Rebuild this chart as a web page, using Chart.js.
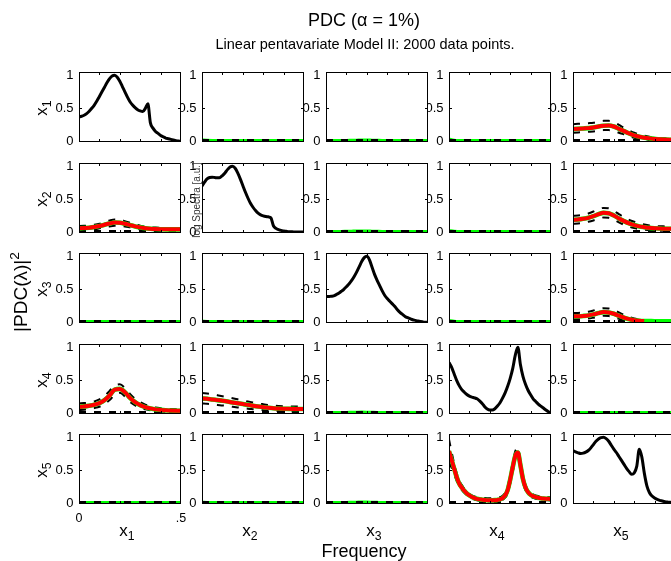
<!DOCTYPE html>
<html>
<head>
<meta charset="utf-8">
<script src="https://cdn.jsdelivr.net/npm/chart.js@4.4.1/dist/chart.umd.min.js"></script>
<style>
  html, body { margin: 0; padding: 0; background: #fff; overflow: hidden; }
  #fig { position: relative; width: 671px; height: 561px; overflow: hidden;
         font-family: "Liberation Sans", Arial, Helvetica, sans-serif; color: #000; }
  .panel { position: absolute; }
  .panel canvas { display: block; }
  .lbl { position: absolute; white-space: nowrap; line-height: 1; transform: translate(-50%, -50%); }
  .rot { transform: translate(-50%, -50%) rotate(-90deg); }
  .lbl sub { font-size: 0.72em; vertical-align: -0.35em; line-height: 0; }
  .lbl sup { font-size: 0.72em; vertical-align: 0.55em; line-height: 0; }
</style>
</head>
<body>
<div id="fig"></div>
<script>
// ---- frequency grids (normalised frequency, 0 .. 0.5) ----
const FREQ = [0,0.025,0.05,0.075,0.1,0.125,0.15,0.175,0.2,0.225,0.25,0.275,0.3,0.325,0.35,0.375,0.4,0.425,0.45,0.475,0.5];
const FREQ_FINE = [0,0.0125,0.025,0.0375,0.05,0.0625,0.075,0.0875,0.1,0.1125,0.125,0.1375,0.15,0.1625,0.175,0.1875,0.2,0.2125,0.225,0.2375,0.25,0.2625,0.275,0.2875,0.3,0.3125,0.325,0.3375,0.35,0.3625,0.375,0.3875,0.4,0.4125,0.425,0.4375,0.45,0.4625,0.475,0.4875,0.5];

// ---- normalised log spectra (diagonal panels), on FREQ_FINE ----
const SPEC_X1 = [0.37,0.38,0.395,0.42,0.455,0.50,0.55,0.61,0.68,0.75,0.82,0.89,0.95,0.99,1.00,0.97,0.91,0.83,0.75,0.67,0.60,0.55,0.51,0.48,0.46,0.45,0.50,0.57,0.28,0.20,0.15,0.12,0.09,0.07,0.05,0.04,0.03,0.02,0.01,0.005,0.0];
const SPEC_X2 = [0.70,0.76,0.81,0.83,0.835,0.83,0.825,0.83,0.86,0.90,0.95,0.99,1.0,0.97,0.90,0.81,0.71,0.61,0.52,0.44,0.38,0.33,0.29,0.265,0.25,0.24,0.235,0.22,0.10,0.06,0.04,0.03,0.02,0.015,0.01,0.008,0.006,0.005,0.005,0.005,0.005];
const SPEC_X3 = [0.39,0.39,0.395,0.40,0.42,0.44,0.47,0.50,0.54,0.58,0.63,0.69,0.76,0.84,0.92,0.98,1.0,0.95,0.84,0.73,0.64,0.56,0.48,0.41,0.36,0.32,0.28,0.24,0.19,0.15,0.12,0.09,0.07,0.055,0.04,0.03,0.02,0.012,0.007,0.003,0.0];
const SPEC_X4 = [0.77,0.70,0.60,0.50,0.42,0.36,0.32,0.285,0.26,0.245,0.235,0.22,0.19,0.15,0.10,0.065,0.05,0.05,0.07,0.11,0.16,0.23,0.31,0.41,0.53,0.68,0.88,1.0,0.74,0.56,0.44,0.35,0.28,0.22,0.18,0.14,0.11,0.08,0.05,0.025,0.005];
const SPEC_X5 = [0.80,0.78,0.765,0.755,0.76,0.775,0.80,0.84,0.89,0.94,0.975,0.995,1.0,0.98,0.94,0.88,0.82,0.77,0.71,0.65,0.59,0.53,0.48,0.44,0.46,0.56,0.82,0.70,0.45,0.26,0.16,0.11,0.08,0.06,0.045,0.035,0.025,0.02,0.015,0.012,0.01];

// ---- significant |PDC|^2 estimates with upper / lower confidence bounds ----
// x1 <- x5
const PDC_1_5 = [0.185,0.19,0.195,0.20,0.21,0.225,0.235,0.24,0.225,0.19,0.155,0.12,0.09,0.07,0.055,0.045,0.037,0.03,0.027,0.025,0.024];
const HI_1_5  = [0.26,0.265,0.27,0.275,0.28,0.295,0.31,0.31,0.29,0.25,0.205,0.165,0.13,0.105,0.085,0.07,0.06,0.052,0.046,0.043,0.042];
const LO_1_5  = [0.13,0.135,0.14,0.145,0.15,0.16,0.17,0.17,0.16,0.13,0.105,0.08,0.055,0.04,0.03,0.022,0.017,0.013,0.011,0.01,0.01];
// x2 <- x1
const PDC_2_1 = [0.06,0.065,0.07,0.08,0.095,0.115,0.135,0.148,0.145,0.13,0.11,0.09,0.075,0.063,0.055,0.05,0.047,0.045,0.045,0.045,0.045];
const HI_2_1  = [0.095,0.1,0.105,0.115,0.13,0.155,0.18,0.195,0.19,0.17,0.145,0.12,0.1,0.085,0.077,0.072,0.07,0.068,0.067,0.067,0.067];
const LO_2_1  = [0.025,0.03,0.035,0.045,0.06,0.075,0.09,0.1,0.1,0.09,0.075,0.06,0.048,0.04,0.035,0.03,0.028,0.027,0.026,0.026,0.026];
// x2 <- x5
const PDC_2_5 = [0.19,0.195,0.205,0.22,0.245,0.275,0.295,0.29,0.255,0.21,0.17,0.135,0.11,0.09,0.078,0.068,0.062,0.058,0.055,0.054,0.053];
const HI_2_5  = [0.25,0.255,0.265,0.285,0.315,0.35,0.37,0.365,0.325,0.275,0.23,0.19,0.16,0.135,0.118,0.105,0.097,0.092,0.09,0.088,0.087];
const LO_2_5  = [0.13,0.135,0.145,0.16,0.18,0.205,0.225,0.22,0.19,0.15,0.115,0.085,0.065,0.05,0.04,0.033,0.029,0.026,0.024,0.023,0.023];
// x3 <- x5
const PDC_3_5 = [0.09,0.092,0.097,0.105,0.12,0.14,0.155,0.15,0.13,0.1,0.07,0.048,0.032,0.025,0.021,0.019,0.017,0.016,0.015,0.015,0.015];
const HI_3_5  = [0.14,0.142,0.148,0.16,0.18,0.2,0.215,0.21,0.185,0.15,0.11,0.08,0.058,0.044,0.035,0.03,0.027,0.025,0.024,0.024,0.024];
const LO_3_5  = [0.045,0.047,0.05,0.057,0.07,0.085,0.1,0.095,0.08,0.055,0.035,0.02,0.01,0.005,0.002,0.0,0.0,0.0,0.0,0.0,0.0];
// x4 <- x1
const PDC_4_1 = [0.10,0.105,0.115,0.13,0.155,0.2,0.27,0.36,0.37,0.32,0.235,0.17,0.125,0.095,0.075,0.06,0.052,0.046,0.042,0.04,0.039];
const HI_4_1  = [0.15,0.155,0.165,0.18,0.21,0.26,0.34,0.42,0.44,0.385,0.295,0.22,0.17,0.13,0.105,0.088,0.077,0.07,0.065,0.062,0.06];
const LO_4_1  = [0.05,0.055,0.065,0.08,0.1,0.14,0.2,0.28,0.31,0.255,0.175,0.12,0.08,0.06,0.045,0.035,0.028,0.024,0.021,0.02,0.019];
// x4 <- x2
const PDC_4_2 = [0.225,0.22,0.21,0.2,0.19,0.178,0.165,0.152,0.14,0.128,0.115,0.103,0.093,0.085,0.078,0.073,0.07,0.068,0.067,0.066,0.066];
const HI_4_2  = [0.31,0.3,0.29,0.275,0.26,0.245,0.228,0.212,0.196,0.18,0.165,0.15,0.138,0.127,0.118,0.112,0.108,0.105,0.104,0.104,0.105];
const LO_4_2  = [0.15,0.145,0.138,0.128,0.12,0.11,0.1,0.09,0.08,0.07,0.062,0.054,0.047,0.041,0.037,0.034,0.031,0.03,0.029,0.029,0.029];
// x5 <- x4 (on FREQ_FINE)
const PDC_5_4 = [0.79,0.66,0.53,0.40,0.30,0.24,0.19,0.15,0.12,0.095,0.08,0.068,0.06,0.055,0.05,0.048,0.047,0.047,0.048,0.052,0.06,0.08,0.12,0.2,0.36,0.55,0.72,0.77,0.58,0.37,0.24,0.17,0.13,0.11,0.095,0.085,0.078,0.073,0.07,0.068,0.066];
const HI_5_4  = [0.97,0.78,0.61,0.46,0.35,0.28,0.22,0.18,0.145,0.12,0.105,0.095,0.088,0.083,0.08,0.078,0.077,0.077,0.079,0.084,0.093,0.115,0.16,0.25,0.42,0.62,0.79,0.84,0.64,0.42,0.28,0.2,0.16,0.135,0.12,0.11,0.103,0.098,0.095,0.093,0.092];
const LO_5_4  = [0.62,0.54,0.44,0.34,0.25,0.2,0.16,0.12,0.095,0.072,0.058,0.047,0.04,0.035,0.031,0.029,0.028,0.028,0.029,0.032,0.038,0.052,0.085,0.15,0.3,0.48,0.65,0.7,0.52,0.32,0.2,0.14,0.1,0.085,0.07,0.062,0.055,0.05,0.047,0.045,0.044];

// ---- non-significant |PDC|^2 estimates ----
const PDC_1_2 = [0.02,0.016,0.014,0.013,0.013,0.013,0.013,0.013,0.013,0.013,0.013,0.013,0.013,0.013,0.013,0.013,0.013,0.013,0.013,0.013,0.013];
const PDC_1_3 = [0.012,0.012,0.012,0.013,0.014,0.016,0.018,0.02,0.02,0.018,0.016,0.014,0.013,0.012,0.012,0.012,0.012,0.012,0.012,0.012,0.012];
const PDC_1_4 = [0.035,0.018,0.014,0.013,0.013,0.013,0.013,0.013,0.013,0.013,0.013,0.013,0.013,0.013,0.013,0.013,0.013,0.013,0.013,0.013,0.013];
const PDC_2_3 = [0.012,0.012,0.013,0.014,0.016,0.018,0.02,0.021,0.02,0.018,0.016,0.014,0.013,0.012,0.012,0.012,0.012,0.012,0.012,0.012,0.012];
const PDC_2_4 = [0.03,0.017,0.014,0.013,0.013,0.013,0.013,0.013,0.013,0.013,0.013,0.013,0.013,0.013,0.013,0.013,0.013,0.013,0.013,0.013,0.013];
const PDC_3_1 = [0.012,0.012,0.012,0.012,0.012,0.012,0.012,0.012,0.012,0.012,0.012,0.012,0.012,0.012,0.012,0.012,0.012,0.012,0.012,0.012,0.012];
const PDC_3_2 = [0.016,0.014,0.013,0.013,0.013,0.013,0.013,0.013,0.013,0.013,0.013,0.013,0.013,0.013,0.013,0.013,0.013,0.013,0.013,0.013,0.013];
const PDC_3_4 = [0.03,0.018,0.014,0.013,0.013,0.013,0.013,0.013,0.013,0.013,0.013,0.013,0.013,0.013,0.013,0.013,0.013,0.013,0.013,0.013,0.013];
const PDC_4_3 = [0.012,0.012,0.012,0.013,0.014,0.016,0.018,0.019,0.018,0.016,0.014,0.013,0.012,0.012,0.012,0.012,0.012,0.012,0.012,0.012,0.012];
const PDC_4_5 = [0.014,0.013,0.013,0.013,0.013,0.013,0.013,0.013,0.013,0.013,0.013,0.013,0.013,0.013,0.013,0.013,0.013,0.013,0.013,0.013,0.013];
const PDC_5_1 = [0.012,0.012,0.012,0.012,0.012,0.012,0.012,0.012,0.012,0.012,0.012,0.012,0.012,0.012,0.012,0.012,0.012,0.012,0.012,0.012,0.012];
const PDC_5_2 = [0.016,0.013,0.013,0.013,0.013,0.013,0.013,0.013,0.013,0.013,0.013,0.013,0.013,0.013,0.013,0.013,0.013,0.013,0.013,0.013,0.013];
const PDC_5_3 = [0.012,0.012,0.012,0.013,0.014,0.016,0.018,0.02,0.019,0.017,0.015,0.013,0.012,0.012,0.012,0.012,0.012,0.012,0.012,0.012,0.012];

// ---- significance thresholds (alpha = 1%), row = target, column = source ----
const THRESHOLD = [
  [null, 0.02, 0.02, 0.02, 0.02],
  [0.02, null, 0.02, 0.02, 0.02],
  [0.02, 0.02, null, 0.02, 0.02],
  [0.022, 0.02, 0.02, null, 0.02],
  [0.02, 0.02, 0.02, 0.022, null]
];

// ---- tick labels ----
const Y_TICKS = [0, 0.5, 1];
const Y_TICK_LABELS = ['0', '0.5', '1'];
const X_TICKS = [0, 0.5];
const X_TICK_LABELS = ['0', '.5'];
const X_MINOR_TICKS = [0.1, 0.2, 0.3, 0.4];

// ---- panel content lookup ----
const SPECTRA = [SPEC_X1, SPEC_X2, SPEC_X3, SPEC_X4, SPEC_X5];
const SIGNIFICANT = {
  '0,4': [PDC_1_5, HI_1_5, LO_1_5, FREQ],
  '1,0': [PDC_2_1, HI_2_1, LO_2_1, FREQ],
  '1,4': [PDC_2_5, HI_2_5, LO_2_5, FREQ],
  '2,4': [PDC_3_5, HI_3_5, LO_3_5, FREQ],
  '3,0': [PDC_4_1, HI_4_1, LO_4_1, FREQ],
  '3,1': [PDC_4_2, HI_4_2, LO_4_2, FREQ],
  '4,3': [PDC_5_4, HI_5_4, LO_5_4, FREQ_FINE]
};
const NOT_SIGNIFICANT = {
  '0,1': PDC_1_2, '0,2': PDC_1_3, '0,3': PDC_1_4,
  '1,2': PDC_2_3, '1,3': PDC_2_4,
  '2,0': PDC_3_1, '2,1': PDC_3_2, '2,3': PDC_3_4,
  '3,2': PDC_4_3, '3,4': PDC_4_5,
  '4,0': PDC_5_1, '4,1': PDC_5_2, '4,2': PDC_5_3
};

// ---- layout ----
const COL_LEFT = [79, 202, 326, 449, 573];
const ROW_TOP = [72, 163, 253, 344, 434];
const PLOT_W = 102, PLOT_H = 70;
const RED = '#ff0000', GREEN = '#00ff00', BLACK = '#000000';
const DASH = [7, 8];
const FONT = 'Liberation Sans, Arial, Helvetica, sans-serif';

function series(xs, ys) { return xs.map((x, i) => ({ x: x, y: ys[i] })); }

function line(xs, ys, extra) {
  return Object.assign({
    data: series(xs, ys),
    pointRadius: 0,
    pointHoverRadius: 0,
    fill: false,
    tension: 0,
    cubicInterpolationMode: 'monotone',
    borderJoinStyle: 'round',
    borderCapStyle: 'butt',
    clip: 0
  }, extra);
}

// white axes background, black box and inward tick marks
const framePlugin = {
  id: 'frame',
  beforeDatasetsDraw(chart) {
    const a = chart.chartArea, ctx = chart.ctx;
    ctx.save();
    ctx.fillStyle = '#fff';
    ctx.fillRect(a.left, a.top, a.right - a.left, a.bottom - a.top);
    ctx.restore();
  },
  afterDatasetsDraw(chart) {
    const a = chart.chartArea, ctx = chart.ctx;
    const xs = chart.scales.x, ys = chart.scales.y;
    ctx.save();
    ctx.strokeStyle = BLACK;
    ctx.lineWidth = 1;
    ctx.beginPath();
    X_MINOR_TICKS.forEach(v => {
      const px = Math.round(xs.getPixelForValue(v)) + 0.5;
      ctx.moveTo(px, a.top); ctx.lineTo(px, a.top + 3);
      ctx.moveTo(px, a.bottom); ctx.lineTo(px, a.bottom - 3);
    });
    const py = Math.round(ys.getPixelForValue(0.5)) + 0.5;
    ctx.moveTo(a.left, py); ctx.lineTo(a.left + 3, py);
    ctx.moveTo(a.right, py); ctx.lineTo(a.right - 3, py);
    ctx.stroke();
    ctx.strokeRect(a.left + 0.5, a.top + 0.5, a.right - a.left - 1, a.bottom - a.top - 1);
    ctx.restore();
  }
};

function datasetsFor(r, c) {
  if (r === c) {
    return [line(FREQ_FINE, SPECTRA[r], { borderColor: BLACK, borderWidth: 3 })];
  }
  const thr = THRESHOLD[r][c];
  const key = r + ',' + c;
  const thrLine = line(X_TICKS, [thr, thr], { borderColor: BLACK, borderWidth: 2, borderDash: DASH });
  if (SIGNIFICANT[key]) {
    const [pdc, hi, lo, xs] = SIGNIFICANT[key];
    return [
      line(xs, pdc, {
        borderColor: RED, borderWidth: 4,
        segment: { borderColor: s => (s.p0.parsed.y > thr && s.p1.parsed.y > thr) ? RED : GREEN }
      }),
      line(xs, pdc, { borderColor: GREEN, borderWidth: 4.6 }),
      line(xs, hi, { borderColor: BLACK, borderWidth: 2, borderDash: DASH }),
      line(xs, lo, { borderColor: BLACK, borderWidth: 2, borderDash: DASH }),
      thrLine
    ];
  }
  return [thrLine, line(FREQ, NOT_SIGNIFICANT[key], { borderColor: GREEN, borderWidth: 3 })];
}

function makePanel(r, c) {
  const withX = (r === 4 && c === 0);
  // generous margins so tick-label overflow never shrinks the plotting box
  const PADL = 40, PADT = 16;
  const PADR = withX ? 16 : 8;
  const XAXIS_H = withX ? 20 : 0;
  const PADB = withX ? 4 : 16;
  const W = PLOT_W + PADL + PADR;
  const H = PLOT_H + PADT + PADB + XAXIS_H;
  const wrap = document.createElement('div');
  wrap.className = 'panel';
  wrap.style.left = (COL_LEFT[c] - PADL) + 'px';
  wrap.style.top = (ROW_TOP[r] - PADT) + 'px';
  wrap.style.width = W + 'px';
  wrap.style.height = H + 'px';
  wrap.style.zIndex = String(20 - c);
  const cv = document.createElement('canvas');
  cv.width = W; cv.height = H;
  cv.style.width = W + 'px'; cv.style.height = H + 'px';
  wrap.appendChild(cv);
  document.getElementById('fig').appendChild(wrap);

  new Chart(cv, {
    type: 'line',
    data: { datasets: datasetsFor(r, c) },
    plugins: [framePlugin],
    options: {
      responsive: false,
      animation: false,
      devicePixelRatio: 1,
      events: [],
      layout: { padding: { left: 0, right: PADR, top: PADT, bottom: PADB } },
      plugins: { legend: { display: false }, tooltip: { enabled: false }, title: { display: false } },
      scales: {
        x: {
          type: 'linear', min: 0, max: 0.5,
          display: withX,
          grid: { display: false, drawTicks: false },
          border: { display: false },
          afterFit: s => { s.height = XAXIS_H; },
          afterBuildTicks: s => { s.ticks = X_TICKS.map(v => ({ value: v })); },
          ticks: {
            autoSkip: false, maxRotation: 0, padding: 7,
            color: BLACK, font: { family: FONT, size: 12.5 },
            callback: v => X_TICK_LABELS[X_TICKS.indexOf(v)]
          }
        },
        y: {
          type: 'linear', min: -0.01, max: 1.05,
          grid: { display: false, drawTicks: false },
          border: { display: false },
          afterFit: s => { s.width = PADL; },
          afterBuildTicks: s => { s.ticks = Y_TICKS.map(v => ({ value: v })); },
          ticks: {
            autoSkip: false, padding: 5.5, color: BLACK, font: { family: FONT, size: 13 },
            callback: v => Y_TICK_LABELS[Y_TICKS.indexOf(v)]
          }
        }
      }
    }
  });
}

for (let r = 0; r < 5; r++) for (let c = 0; c < 5; c++) makePanel(r, c);

// ---- figure texts ----
function addLabel(html, x, y, size, rotate, extraStyle) {
  const d = document.createElement('div');
  d.className = 'lbl' + (rotate ? ' rot' : '');
  d.style.left = x + 'px';
  d.style.top = y + 'px';
  d.style.fontSize = size + 'px';
  d.style.zIndex = '40';
  if (extraStyle) d.style.cssText += extraStyle;
  d.innerHTML = html;
  document.getElementById('fig').appendChild(d);
}

addLabel('PDC (&alpha; = 1%)', 364, 20, 18, false);
addLabel('Linear pentavariate Model II: 2000 data points.', 365, 44, 14.5, false);
for (let i = 0; i < 5; i++) {
  addLabel('x<sub>' + (i + 1) + '</sub>', 41, ROW_TOP[i] + 36, 17, true);
  addLabel('x<sub>' + (i + 1) + '</sub>', COL_LEFT[i] + PLOT_W / 2 - 3, 530, 17, false);
}
addLabel('Frequency', 364, 551, 18, false);
addLabel('|PDC(&lambda;)|<sup>2</sup>', 20, 292, 19, true);
addLabel('log Spectra [a.u.]', 197, 200, 10, true, 'color:#333;');
</script>
</body>
</html>
